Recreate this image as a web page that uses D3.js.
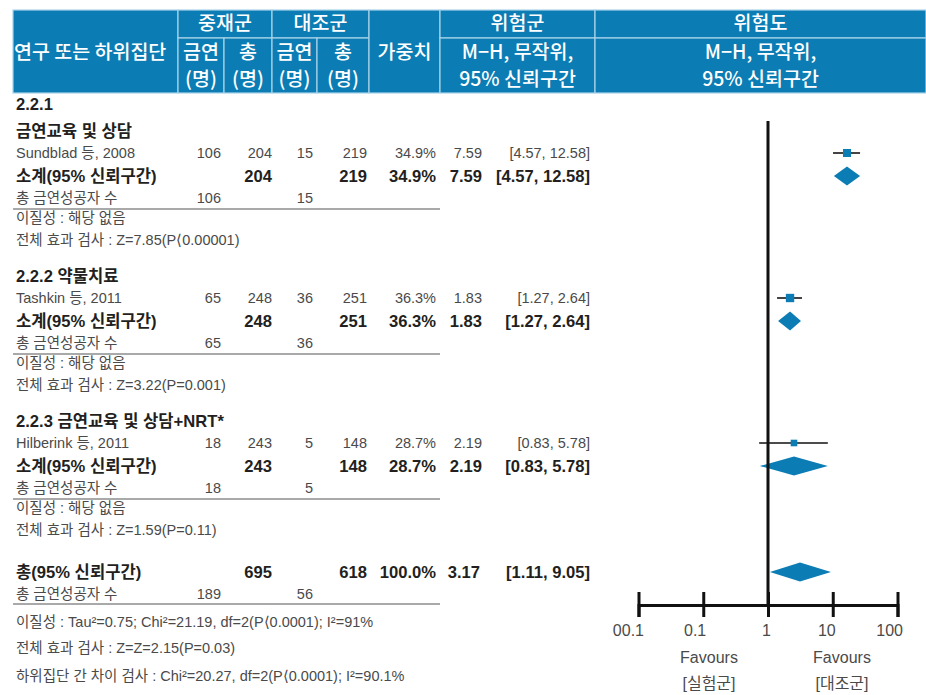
<!DOCTYPE html>
<html>
<head>
<meta charset="utf-8">
<script src="https://cdn.jsdelivr.net/npm/d3@7"></script>
<style>
body{margin:0;background:#fff;}
text{font-family:"Liberation Sans","Noto Sans CJK KR",sans-serif;}
.kr{font-family:"Noto Sans CJK KR",sans-serif;}
</style>
</head>
<body>
<script>
// data
var groupTitles = ["금연교육 및 상담", "2.2.2 약물치료", "2.2.3 금연교육 및 상담+NRT*"];
var studies = ["Sundblad 등, 2008", "Tashkin 등, 2011", "Hilberink 등, 2011"];
var expEvents = [106, 65, 18];
var expTotal = [204, 248, 243];
var ctrlEvents = [15, 36, 5];
var ctrlTotal = [219, 251, 148];
var weights = [34.9, 36.3, 28.7];
var rrText = ["7.59", "1.83", "2.19"];
var ciText = ["[4.57, 12.58]", "[1.27, 2.64]", "[0.83, 5.78]"];
var heteroText = ["이질성 : 해당 없음", "이질성 : 해당 없음", "이질성 : 해당 없음"];
var effectText = ["전체 효과 검사 : Z=7.85(P⟨0.00001)", "전체 효과 검사 : Z=3.22(P=0.001)", "전체 효과 검사 : Z=1.59(P=0.11)"];

// plotted positions
var studyEst = [16.6, 2.19, 2.52];
var studyLo = [10.1, 1.38, 0.73];
var studyHi = [26.4, 3.35, 8.4];
var subEst = [16.6, 2.19, 2.52];
var subLo = [10.4, 1.43, 0.75];
var subHi = [26.4, 3.23, 8.4];

var totalExp = 695, totalCtrl = 618, totalWeight = "100.0%", totalRR = "3.17", totalCI = "[1.11, 9.05]";
var totalExpEvents = 189, totalCtrlEvents = 56;
var totalEst = 3.12, totalLo = 1.07, totalHi = 9.4;
var totalNotes = ["이질성 : Tau²=0.75; Chi²=21.19, df=2(P⟨0.0001); I²=91%", "전체 효과 검사 : Z=Z=2.15(P=0.03)", "하위집단 간 차이 검사 : Chi²=20.27, df=2(P⟨0.0001); I²=90.1%"];

var tickValues = [0.01, 0.1, 1, 10, 100];
var tickLabels = ["00.1", "0.1", "1", "10", "100"];

var blue = "#0b7db4";
var dark = "#231f20";
var grey = "#4a4a4a";

var svg = d3.select("body").append("svg").attr("width", 926).attr("height", 695);

// header
var hdr = svg.append("g");
var cells = [
  {x0:13,x1:178,y0:10,y1:93,lines:[["연구 또는 하위집단",52]],left:true},
  {x0:178,x1:272,y0:10,y1:38,lines:[["중재군",23]]},
  {x0:178,x1:224,y0:38,y1:93,lines:[["금연",52],["(명)",79]]},
  {x0:224,x1:272,y0:38,y1:93,lines:[["총",52],["(명)",79]]},
  {x0:272,x1:369,y0:10,y1:38,lines:[["대조군",23]]},
  {x0:272,x1:317,y0:38,y1:93,lines:[["금연",52],["(명)",79]]},
  {x0:317,x1:369,y0:38,y1:93,lines:[["총",52],["(명)",79]]},
  {x0:369,x1:440,y0:10,y1:93,lines:[["가중치",52]]},
  {x0:440,x1:595,y0:10,y1:38,lines:[["위험군",23]]},
  {x0:440,x1:595,y0:38,y1:93,lines:[["M−H, 무작위,",52],["95% 신뢰구간",79]]},
  {x0:595,x1:926,y0:10,y1:38,lines:[["위험도",23]]},
  {x0:595,x1:926,y0:38,y1:93,lines:[["M−H, 무작위,",52],["95% 신뢰구간",79]]}
];
hdr.selectAll("rect").data(cells).enter().append("rect")
  .attr("x", function(d){return d.x0;}).attr("y", function(d){return d.y0;})
  .attr("width", function(d){return d.x1-d.x0;}).attr("height", function(d){return d.y1-d.y0;})
  .attr("fill", blue).attr("stroke", "#a9d3e8").attr("stroke-width", 1.2);
cells.forEach(function(c){
  c.lines.forEach(function(l){
    hdr.append("text").attr("class","kr")
      .attr("x", c.left ? c.x0+1 : (c.x0+c.x1)/2)
      .attr("y", l[1]).attr("dy","0.36em")
      .attr("text-anchor", c.left ? "start" : "middle")
      .attr("fill","#fff").attr("font-size", 19.5).attr("font-weight", 500)
      .text(l[0]);
  });
});

// table
var cols = {exE:221, exT:272, ctE:313, ctT:367, w:436, rr:482, ci:590};
var tbl = svg.append("g");
function txt(x, y, s, opt){
  opt = opt || {};
  return tbl.append("text").attr("x", x).attr("y", y).attr("dy","0.36em")
    .attr("text-anchor", opt.anchor || "start")
    .attr("font-size", opt.size || 14.5)
    .attr("font-weight", opt.bold ? "bold" : "normal")
    .attr("fill", opt.bold ? dark : grey)
    .text(s);
}

var xScale = d3.scaleLog().domain([0.01, 100]).range([638.5, 897.5]);
var sizeScale = d3.scaleLinear().domain([0, 40]).range([0, 9.2]);
var marks = svg.append("g");

function diamond(lo, est, hi, y){
  var h = 9.5;
  marks.append("path")
    .attr("d", "M"+xScale(lo)+","+y+"L"+xScale(est)+","+(y-h)+"L"+xScale(hi)+","+y+"L"+xScale(est)+","+(y+h)+"Z")
    .attr("fill", blue);
}

var bs = 16.6;
var y = 104;
txt(16, y, "2.2.1", {bold:true, size:bs});
y = 131;
var sepYs = [];
groupTitles.forEach(function(t, i){
  txt(16, y, t, {bold:true, size:bs});
  y += 22;
  txt(16, y, studies[i]);
  txt(cols.exE, y, expEvents[i], {anchor:"end"});
  txt(cols.exT, y, expTotal[i], {anchor:"end"});
  txt(cols.ctE, y, ctrlEvents[i], {anchor:"end"});
  txt(cols.ctT, y, ctrlTotal[i], {anchor:"end"});
  txt(cols.w, y, weights[i].toFixed(1)+"%", {anchor:"end"});
  txt(cols.rr, y, rrText[i], {anchor:"end"});
  txt(cols.ci, y, ciText[i], {anchor:"end"});
  var s = sizeScale(weights[i]);
  marks.append("line").attr("x1", xScale(studyLo[i])).attr("x2", xScale(studyHi[i]))
    .attr("y1", y).attr("y2", y).attr("stroke", i < 2 ? "#444" : "#111").attr("stroke-width", i < 2 ? 2 : 1.3);
  marks.append("rect").attr("x", xScale(studyEst[i])-s/2).attr("y", y-s/2)
    .attr("width", s).attr("height", s).attr("fill", blue);
  y += 23;
  txt(16, y, "소계(95% 신뢰구간)", {bold:true, size:bs});
  txt(cols.exT, y, expTotal[i], {anchor:"end", bold:true, size:bs});
  txt(cols.ctT, y, ctrlTotal[i], {anchor:"end", bold:true, size:bs});
  txt(cols.w, y, weights[i].toFixed(1)+"%", {anchor:"end", bold:true, size:bs});
  txt(cols.rr, y, rrText[i], {anchor:"end", bold:true, size:bs});
  txt(cols.ci, y, ciText[i], {anchor:"end", bold:true, size:bs});
  diamond(subLo[i], subEst[i], subHi[i], y);
  y += 22;
  txt(16, y, "총 금연성공자 수");
  txt(cols.exE, y, expEvents[i], {anchor:"end"});
  txt(cols.ctE, y, ctrlEvents[i], {anchor:"end"});
  sepYs.push(y + 11);
  y += 20;
  txt(16, y, heteroText[i]);
  y += 22;
  txt(16, y, effectText[i]);
  y += 36;
});

y = 572;
txt(16, y, "총(95% 신뢰구간)", {bold:true, size:bs});
txt(cols.exT, y, totalExp, {anchor:"end", bold:true, size:bs});
txt(cols.ctT, y, totalCtrl, {anchor:"end", bold:true, size:bs});
txt(cols.w, y, totalWeight, {anchor:"end", bold:true, size:bs});
txt(480, y, totalRR, {anchor:"end", bold:true, size:bs});
txt(cols.ci, y, totalCI, {anchor:"end", bold:true, size:bs});
diamond(totalLo, totalEst, totalHi, y);
y += 22;
txt(16, y, "총 금연성공자 수");
txt(cols.exE, y, totalExpEvents, {anchor:"end"});
txt(cols.ctE, y, totalCtrlEvents, {anchor:"end"});
sepYs.push(y + 10);
txt(16, 622, totalNotes[0]);
txt(16, 648, totalNotes[1]);
txt(16, 676, totalNotes[2]);

tbl.selectAll("line.sep").data(sepYs).enter().append("line").attr("class","sep")
  .attr("x1", 13).attr("x2", 440).attr("y1", function(d){return d;}).attr("y2", function(d){return d;})
  .attr("stroke", "#8c8c8c").attr("stroke-width", 1.5);

// axis
var axisY = 605;
var axis = d3.axisBottom(xScale).tickValues(tickValues)
  .tickFormat(function(d, i){return tickLabels[i];}).tickSizeOuter(0).tickSize(12);
var ax = svg.append("g").attr("transform", "translate(0," + axisY + ")").call(axis);
ax.select(".domain").attr("stroke", "#111").attr("stroke-width", 3);
ax.selectAll(".tick line").attr("y1", -13).attr("y2", 12).attr("stroke", "#111").attr("stroke-width", 3);
ax.selectAll(".tick text").attr("y", 25).attr("x", function(d, i){return (i === 0 || i === 4) ? 5 : 2.5;})
  .attr("dy", "0.36em").attr("text-anchor", "end").attr("font-size", 16).attr("fill", grey)
  .attr("font-family", "'Liberation Sans',sans-serif");

// line of no effect
svg.append("line").attr("x1", xScale(1)).attr("x2", xScale(1)).attr("y1", 121).attr("y2", axisY)
  .attr("stroke", "#111").attr("stroke-width", 3);

[["Favours", 709, 657], ["Favours", 842, 657], ["[실험군]", 709, 683], ["[대조군]", 842, 683]].forEach(function(f){
  svg.append("text").attr("x", f[1]).attr("y", f[2]).attr("dy","0.36em").attr("text-anchor","middle")
    .attr("font-size", 16).attr("fill", grey).text(f[0]);
});
</script>
</body>
</html>
